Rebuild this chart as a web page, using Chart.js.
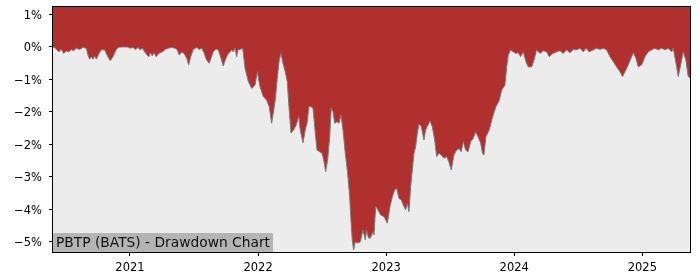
<!DOCTYPE html>
<html>
<head>
<meta charset="utf-8">
<script src="https://cdn.jsdelivr.net/npm/chart.js@4"></script>
<style>
  html, body { margin: 0; padding: 0; background: #fff; }
  #wrap { width: 700px; height: 280px; }
</style>
</head>
<body>
<div id="wrap"><canvas id="ddChart" width="700" height="280"></canvas></div>
<script>
// PBTP (BATS) drawdown
// x = decimal year, y = drawdown in %
const years = [
  2020.399, 2020.412, 2020.425, 2020.446, 2020.464, 2020.482, 2020.503, 2020.524, 2020.542, 2020.560,
  2020.581, 2020.607, 2020.633, 2020.659, 2020.672, 2020.685, 2020.698, 2020.711, 2020.724, 2020.737,
  2020.758, 2020.776, 2020.802, 2020.815, 2020.828, 2020.846, 2020.867, 2020.888, 2020.906, 2020.932,
  2020.959, 2020.984, 2021.002, 2021.023, 2021.044, 2021.062, 2021.080, 2021.096, 2021.115, 2021.133,
  2021.148, 2021.158, 2021.174, 2021.187, 2021.205, 2021.221, 2021.234, 2021.255, 2021.273, 2021.299,
  2021.326, 2021.351, 2021.369, 2021.385, 2021.404, 2021.422, 2021.443, 2021.458, 2021.474, 2021.494,
  2021.521, 2021.541, 2021.560, 2021.578, 2021.593, 2021.607, 2021.619, 2021.632, 2021.650, 2021.671,
  2021.689, 2021.703, 2021.718, 2021.728, 2021.742, 2021.760, 2021.775, 2021.794, 2021.806, 2021.820,
  2021.833, 2021.843, 2021.859, 2021.880, 2021.898, 2021.924, 2021.950, 2021.976, 2021.994, 2022.015,
  2022.041, 2022.067, 2022.087, 2022.106, 2022.122, 2022.134, 2022.150, 2022.165, 2022.179, 2022.194,
  2022.212, 2022.228, 2022.239, 2022.257, 2022.278, 2022.298, 2022.317, 2022.329, 2022.351, 2022.368,
  2022.382, 2022.397, 2022.413, 2022.429, 2022.447, 2022.460, 2022.481, 2022.499, 2022.512, 2022.528,
  2022.543, 2022.559, 2022.571, 2022.585, 2022.598, 2022.616, 2022.632, 2022.647, 2022.663, 2022.681,
  2022.699, 2022.715, 2022.725, 2022.735, 2022.746, 2022.759, 2022.778, 2022.798, 2022.819, 2022.837,
  2022.848, 2022.862, 2022.876, 2022.897, 2022.905, 2022.918, 2022.936, 2022.957, 2022.983, 2023.009,
  2023.030, 2023.048, 2023.066, 2023.082, 2023.100, 2023.118, 2023.139, 2023.152, 2023.165, 2023.178,
  2023.191, 2023.204, 2023.217, 2023.230, 2023.243, 2023.256, 2023.274, 2023.295, 2023.308, 2023.321,
  2023.342, 2023.360, 2023.379, 2023.394, 2023.412, 2023.430, 2023.451, 2023.472, 2023.490, 2023.508,
  2023.529, 2023.550, 2023.568, 2023.586, 2023.602, 2023.621, 2023.639, 2023.660, 2023.680, 2023.699,
  2023.717, 2023.738, 2023.752, 2023.763, 2023.779, 2023.805, 2023.831, 2023.857, 2023.883, 2023.902,
  2023.927, 2023.941, 2023.953, 2023.972, 2023.992, 2024.013, 2024.031, 2024.050, 2024.070, 2024.091,
  2024.109, 2024.136, 2024.154, 2024.175, 2024.201, 2024.226, 2024.253, 2024.273, 2024.300, 2024.331,
  2024.357, 2024.382, 2024.409, 2024.435, 2024.461, 2024.487, 2024.513, 2024.539, 2024.560, 2024.585,
  2024.617, 2024.643, 2024.669, 2024.695, 2024.721, 2024.747, 2024.773, 2024.799, 2024.825, 2024.846,
  2024.864, 2024.890, 2024.916, 2024.929, 2024.950, 2024.968, 2024.995, 2025.020, 2025.046, 2025.073,
  2025.098, 2025.124, 2025.151, 2025.176, 2025.202, 2025.229, 2025.241, 2025.268, 2025.280, 2025.299,
  2025.319, 2025.340, 2025.358, 2025.372
];

const drawdown = [
  0.00, -0.01, -0.06, -0.12, -0.05, -0.16, -0.10, -0.12, -0.06, -0.09,
  -0.03, -0.06, -0.01, -0.03, -0.20, -0.30, -0.24, -0.30, -0.22, -0.30,
  -0.16, -0.07, -0.07, -0.16, -0.24, -0.34, -0.24, -0.09, -0.01, 0.00,
  0.00, 0.00, -0.03, -0.01, -0.06, -0.01, -0.07, -0.03, -0.12, -0.20,
  -0.24, -0.14, -0.22, -0.14, -0.24, -0.17, -0.14, -0.12, -0.06, -0.03,
  -0.01, -0.03, -0.07, -0.20, -0.12, -0.16, -0.28, -0.44, -0.24, -0.06,
  -0.01, -0.06, -0.03, -0.14, -0.28, -0.36, -0.40, -0.28, -0.12, -0.05,
  -0.07, -0.20, -0.36, -0.47, -0.34, -0.20, -0.14, -0.07, -0.12, -0.03,
  -0.24, -0.07, -0.06, -0.03, -0.52, -0.85, -1.02, -0.94, -0.61, -0.98,
  -1.22, -1.31, -1.47, -1.88, -1.55, -1.31, -0.77, -0.32, -0.16, -0.40,
  -0.61, -0.85, -1.38, -2.12, -2.04, -1.92, -1.70, -2.04, -2.36, -2.04,
  -1.88, -1.47, -1.47, -1.51, -2.13, -2.54, -2.58, -2.62, -2.78, -3.07,
  -2.78, -2.21, -1.51, -1.59, -1.88, -1.84, -1.88, -1.67, -2.04, -2.62,
  -3.11, -3.69, -4.26, -4.75, -5.00, -4.80, -4.83, -4.80, -4.51, -4.75,
  -4.51, -4.70, -4.71, -4.55, -4.63, -3.93, -4.01, -4.14, -4.18, -4.34,
  -3.93, -3.69, -3.52, -3.48, -3.73, -3.77, -3.93, -4.01, -3.85, -4.06,
  -3.44, -3.03, -2.62, -2.46, -2.13, -1.90, -1.96, -2.29, -2.04, -1.96,
  -1.82, -1.96, -2.29, -2.70, -2.62, -2.66, -2.74, -2.70, -2.83, -3.03,
  -2.66, -2.54, -2.50, -2.58, -2.33, -2.54, -2.58, -2.33, -2.25, -2.09,
  -2.21, -2.37, -2.62, -2.66, -2.21, -2.04, -1.72, -1.47, -1.31, -1.06,
  -0.94, -0.49, -0.20, -0.07, -0.12, -0.16, -0.14, -0.24, -0.12, -0.36,
  -0.49, -0.49, -0.32, -0.07, -0.16, -0.09, -0.12, -0.24, -0.16, -0.12,
  -0.09, -0.16, -0.07, -0.14, -0.06, -0.07, -0.03, -0.12, -0.03, -0.12,
  -0.07, -0.03, -0.06, -0.03, -0.07, -0.24, -0.36, -0.49, -0.61, -0.73,
  -0.61, -0.44, -0.24, -0.14, -0.28, -0.49, -0.44, -0.24, -0.12, -0.07,
  -0.03, -0.07, -0.03, -0.07, -0.03, -0.12, -0.03, -0.49, -0.73, -0.44,
  -0.12, -0.32, -0.73, -0.76
];

const xTicks = [2021, 2022, 2023, 2024, 2025];
const yTicks = [0.8, 0, -0.8, -1.6, -2.4, -3.2, -4.0, -4.8];
const yTickLabels = ["1%", "0%", "\u22121%", "\u22122%", "\u22122%", "\u22123%", "\u22124%", "\u22125%"];
const chartTitle = "PBTP (BATS) - Drawdown Chart";

const points = years.map((x, i) => ({ x: x, y: drawdown[i] }));

// grey plot background, outer frame and the title box in the lower left
const framePlugin = {
  id: "frame",
  beforeDraw(chart) {
    const a = chart.chartArea, ctx = chart.ctx;
    ctx.save();
    ctx.fillStyle = "#ececec";
    ctx.fillRect(a.left, a.top, a.right - a.left, a.bottom - a.top);
    ctx.restore();
  },
  afterDraw(chart) {
    const a = chart.chartArea, ctx = chart.ctx;
    ctx.save();
    ctx.font = "13.8px 'DejaVu Sans'";
    const w = ctx.measureText(chartTitle).width;
    ctx.fillStyle = "#b4b4b4";
    ctx.fillRect(a.left, a.bottom - 19, w + 6, 19);
    ctx.fillStyle = "#111";
    ctx.textBaseline = "alphabetic";
    ctx.fillText(chartTitle, a.left + 3, a.bottom - 5.5);
    ctx.strokeStyle = "#000";
    ctx.lineWidth = 1;
    ctx.strokeRect(a.left - 0.5, a.top - 0.5, a.right - a.left + 1, a.bottom - a.top + 1);
    ctx.restore();
  }
};

const ctx = document.getElementById("ddChart").getContext("2d");
new Chart(ctx, {
  type: "line",
  data: {
    datasets: [{
      data: points,
      borderColor: "#7a7a7a",
      borderWidth: 1,
      backgroundColor: "#b03030",
      fill: "end",
      pointRadius: 0,
      tension: 0
    }]
  },
  options: {
    responsive: false,
    animation: false,
    devicePixelRatio: 1,
    layout: { padding: { top: 7, right: 10, left: 0, bottom: 0 } },
    plugins: {
      legend: { display: false },
      tooltip: { enabled: false }
    },
    scales: {
      x: {
        type: "linear",
        min: 2020.399,
        max: 2025.372,
        afterFit: s => { s.height = 28; s.paddingLeft = 0; s.paddingRight = 0; },
        afterBuildTicks: s => { s.ticks = xTicks.map(v => ({ value: v })); },
        grid: { drawOnChartArea: false, tickLength: 4, tickColor: "#000" },
        border: { display: false },
        ticks: {
          color: "#000",
          padding: 5,
          maxRotation: 0,
          font: { family: "'DejaVu Sans'", size: 11.5 },
          callback: v => String(v)
        }
      },
      y: {
        min: -5.05,
        max: 0.985,
        // labels sit well inside the range, so no extra room above/below
        afterFit: s => { s.width = 53; s.paddingTop = 0; s.paddingBottom = 0; },
        afterBuildTicks: s => { s.ticks = yTicks.map(v => ({ value: v })); },
        grid: { drawOnChartArea: false, tickLength: 4, tickColor: "#000" },
        border: { display: false },
        ticks: {
          color: "#000",
          padding: 7,
          labelOffset: 1.5,
          font: { family: "'DejaVu Sans'", size: 11.5 },
          callback: (v, i) => yTickLabels[i]
        }
      }
    }
  },
  plugins: [framePlugin]
});
</script>
</body>
</html>
